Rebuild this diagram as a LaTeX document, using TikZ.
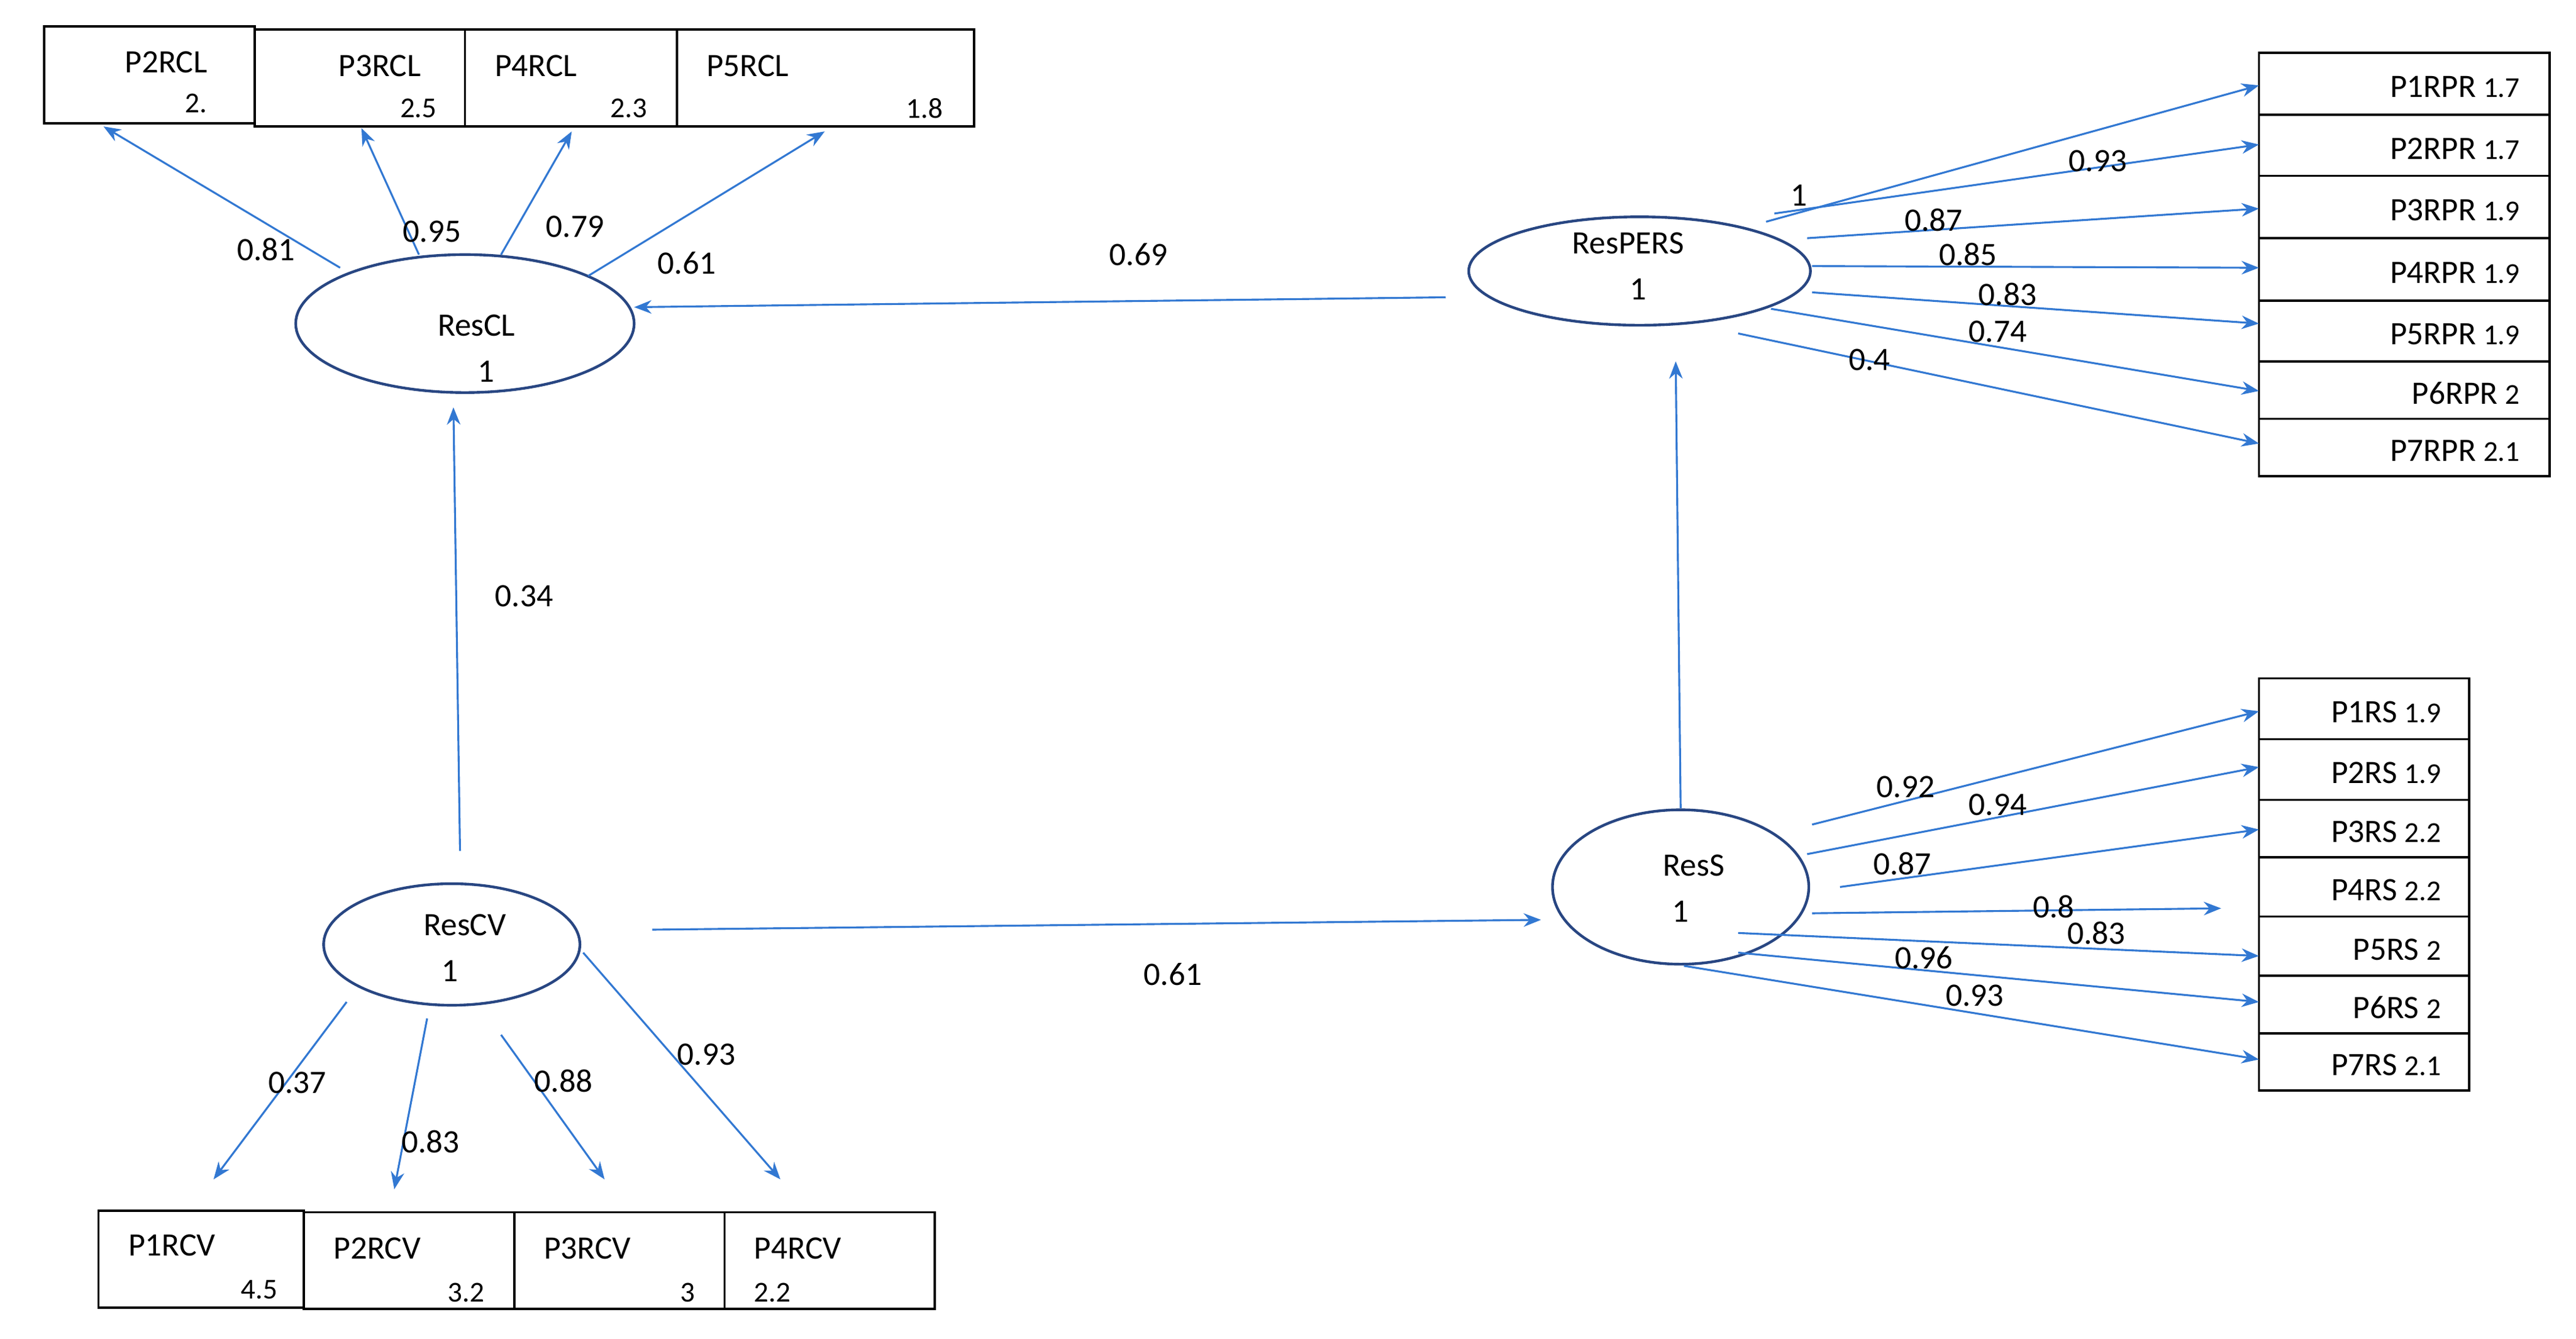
\documentclass[tikz,border=0pt]{standalone}
\usepackage{fontspec}
\setmainfont{Carlito}
\usetikzlibrary{arrows.meta}
\definecolor{arr}{RGB}{50,120,210}
\definecolor{ell}{RGB}{40,70,130}
\begin{document}
\begin{tikzpicture}[x=0.03cm,y=-0.03cm,
  every node/.style={font=\fontsize{17}{20}\selectfont},
  bx/.style={draw,line width=1.2pt,minimum width=0pt},
  lv/.style={draw=ell,line width=1.4pt,ellipse},
  ar/.style={draw=arr,line width=1pt,-{Stealth[length=9pt,width=7pt]}},
  lb/.style={inner sep=1pt},
  sm/.style={font=\fontsize{15}{18}\selectfont}]
\useasboundingbox (0,0) rectangle (1568,815);
% top boxes
\draw[line width=1.2pt] (27,16) rectangle (155,75) (155,18) rectangle (283,77) (283,18) rectangle (412,77) (412,18) rectangle (593,77);
\node[anchor=west] (t1) at (72,38) {P2RCL}; \node[sm,anchor=east] (t1n) at (130,63) {2.};
\node[anchor=west] (t2) at (202,40) {P3RCL}; \node[sm,anchor=east] (t2n) at (270,66) {2.5};
\node[anchor=west] (t3) at (297,40) {P4RCL}; \node[sm,anchor=east] (t3n) at (398,66) {2.3};
\node[anchor=west] (t4) at (426,40) {P5RCL}; \node[sm,anchor=east] (t4n) at (578,66) {1.8};
% bottom boxes
\draw[line width=1.2pt] (60,737) rectangle (185,796) (185,738) rectangle (313,797) (313,738) rectangle (441,797) (441,738) rectangle (569,797);
\node[anchor=west] (b1) at (74,758) {P1RCV}; \node[sm,anchor=east] (b1n) at (173,785) {4.5};
\node[anchor=west] (b2) at (199,760) {P2RCV}; \node[sm,anchor=east] (b2n) at (299,787) {3.2};
\node[anchor=west] (b3) at (327,760) {P3RCV}; \node[sm,anchor=east] (b3n) at (427,787) {3};
\node[anchor=west] (b4) at (455,760) {P4RCV}; \node[sm,anchor=west] (b4n) at (455,787) {2.2};
% RPR boxes
\foreach \a/\b/\t/\n in {32/70/P1RPR/1.7,70/107/P2RPR/1.7,107/145/P3RPR/1.9,145/183/P4RPR/1.9,183/220/P5RPR/1.9,220/255/P6RPR/2,255/290/P7RPR/2.1}{
  \draw[line width=1.2pt] (1375,\a) rectangle (1552,\b);
  \node[anchor=east] (r\t) at (1538,{(\a+\b)/2+2}) {\t\ {\fontsize{15}{18}\selectfont\n}};
}
% RS boxes
\foreach \a/\b/\t/\n in {413/450/P1RS/1.9,450/487/P2RS/1.9,487/522/P3RS/2.2,522/558/P4RS/2.2,558/594/P5RS/2,594/629/P6RS/2,629/664/P7RS/2.1}{
  \draw[line width=1.2pt] (1375,\a) rectangle (1503,\b);
  \node[anchor=east] (s\t) at (1490,{(\a+\b)/2+2}) {\t\ {\fontsize{15}{18}\selectfont\n}};
}
% latent variables
\draw[draw=ell,line width=1.4pt] (283,197) ellipse [x radius=103,y radius=42];
\node (cl) at (290,198) {ResCL}; \node (cl1) at (296,226) {1};
\draw[draw=ell,line width=1.4pt] (998,165) ellipse [x radius=104,y radius=33];
\node (pe) at (991,148) {ResPERS}; \node (pe1) at (997,176) {1};
\draw[draw=ell,line width=1.4pt] (275,575) ellipse [x radius=78,y radius=37];
\node (cv) at (283,563) {ResCV}; \node (cv1) at (274,591) {1};
\draw[draw=ell,line width=1.4pt] (1023,540) ellipse [x radius=78,y radius=47];
\node (rs) at (1031,527) {ResS}; \node (rs1) at (1023,555) {1};
% arrows
\foreach \sx/\sy/\ex/\ey/\l/\lx/\ly in {
 207/163/63/77/0.81/162/152, 255/155/220/78/0.95/263/141, 305/155/348/80/0.79/350/138, 358/168/502/80/0.61/418/160,
 880/181/386/187/0.69/693/155, 280/518/276/248/0.34/319/363, 397/566/938/560/0.61/714/593,
 211/610/130/718/0.37/181/659, 260/620/240/724/0.83/262/695, 305/630/368/718/0.88/343/658, 355/580/475/718/0.93/430/642,
 1075/135/1375/52/1/1095/119, 1080/130/1375/88/0.93/1277/98, 1100/145/1375/127/0.87/1177/134, 1103/162/1375/163/0.85/1198/155,
 1103/178/1375/197/0.83/1222/179, 1078/188/1375/238/0.74/1216/202, 1058/203/1375/270/0.4/1138/219,
 1103/502/1375/433/0.92/1160/479, 1100/520/1375/467/0.94/1216/490, 1120/540/1375/505/0.87/1158/526, 1103/556/1352/553/0.8/1250/552,
 1058/568/1375/582/0.83/1276/568, 1058/580/1375/610/0.96/1171/583, 1025/588/1375/645/0.93/1202/606}{
  \coordinate (s) at (\sx,\sy); \coordinate (e) at (\ex,\ey);
  \draw[ar] (s) -- (e);
  \node[lb] at (\lx,\ly) {\l};
}
\coordinate (u1) at (1023,492); \coordinate (u2) at (1020,220);
\draw[ar] (u1) -- (u2);
\end{tikzpicture}
\end{document}
